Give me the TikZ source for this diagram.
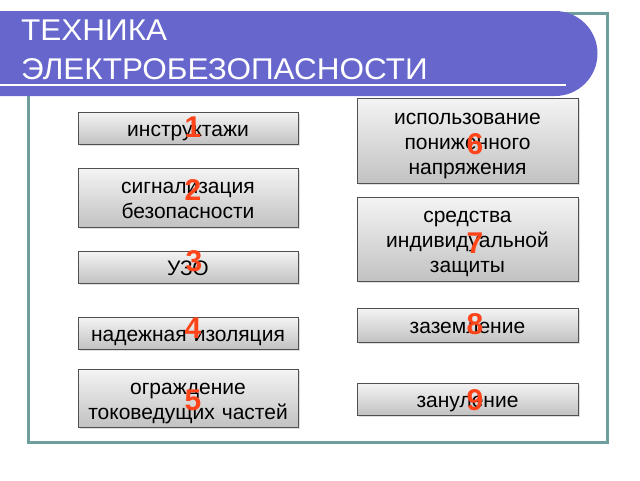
\documentclass[tikz,border=0pt]{standalone}
\usepackage{fontspec}
\setmainfont{Liberation Sans}
\setsansfont{Liberation Sans}
\usetikzlibrary{shadows}
\definecolor{banner}{HTML}{6666CC}
\definecolor{tealframe}{HTML}{6E9E9C}
\definecolor{digitred}{HTML}{FF4419}
\definecolor{boxtop}{HTML}{F4F4F4}
\definecolor{boxbot}{HTML}{C2C2C2}
\definecolor{boxline}{HTML}{505050}

\begin{document}
\begin{tikzpicture}[x=1pt,y=-1pt,font=\sffamily,
  item/.style={draw=boxline,line width=1pt,top color=boxtop,bottom color=boxbot,
    align=center,inner sep=0pt,text width=215pt,
    execute at begin node={\rule{0pt}{22pt}},
    execute at end node={\rule[-5pt]{0pt}{5pt}},
    font=\sffamily\fontsize{21}{25}\selectfont,
    drop shadow={shadow xshift=1.5pt,shadow yshift=-1.5pt,opacity=0.25}},
  digit/.style={text=digitred,inner sep=0pt,
    font=\sffamily\bfseries\fontsize{30}{30}\selectfont},
  heading/.style={anchor=base west,text=white,inner sep=0pt,xscale=1.05,transform shape,
    font=\sffamily\fontsize{30}{30}\selectfont}]
  \useasboundingbox (0,0) rectangle (640,480);

  % frame and title banner
  \draw[tealframe,line width=3pt] (28,13) rectangle (607,442);
  \fill[banner] (0,11) -- (555,11) arc[start angle=-90,end angle=90,radius=42.5]
    -- (0,96) -- cycle;
  \draw[white,line width=2pt] (0,84.5) -- (566,84.5);
  \node[heading] (title1) at (21,40.5) {ТЕХНИКА};
  \node[heading] (title2) at (21,79.5) {ЭЛЕКТРОБЕЗОПАСНОСТИ};

  % left column
  \node[item,minimum width=220pt,minimum height=32pt] (instr) at (188,128) {инструктажи};
  \node[item,minimum width=220pt,minimum height=59pt] (signal) at (188,197.5)
    {сигнализация\\безопасности};
  \node[item,minimum width=220pt,minimum height=32pt] (uzo) at (188,267) {УЗО};
  \node[item,minimum width=220pt,minimum height=32pt] (insul) at (188,333)
    {надежная изоляция};
  \node[item,minimum width=220pt,minimum height=58pt] (fence) at (188,398)
    {ограждение\\токоведущих частей};

  % right column
  \node[item,minimum width=221pt,minimum height=85pt] (lowvolt) at (467.5,140.5)
    {использование\\пониженного\\напряжения};
  \node[item,minimum width=221pt,minimum height=84pt] (ppe) at (467.5,239)
    {средства\\индивидуальной\\защиты};
  \node[item,minimum width=221pt,minimum height=34pt] (earth) at (467.5,325)
    {заземление};
  \node[item,minimum width=221pt,minimum height=32pt] (neutral) at (467.5,399)
    {зануление};

  % numbers
  \node[digit] (d1) at (193,127) {1};
  \node[digit] (d2) at (193,190) {2};
  \node[digit] (d3) at (194,261) {3};
  \node[digit] (d4) at (193,328) {4};
  \node[digit] (d5) at (193,400) {5};
  \node[digit] (d6) at (475,144) {6};
  \node[digit] (d7) at (475,243) {7};
  \node[digit] (d8) at (475,324) {8};
  \node[digit] (d9) at (475,400) {9};
\end{tikzpicture}
\end{document}
